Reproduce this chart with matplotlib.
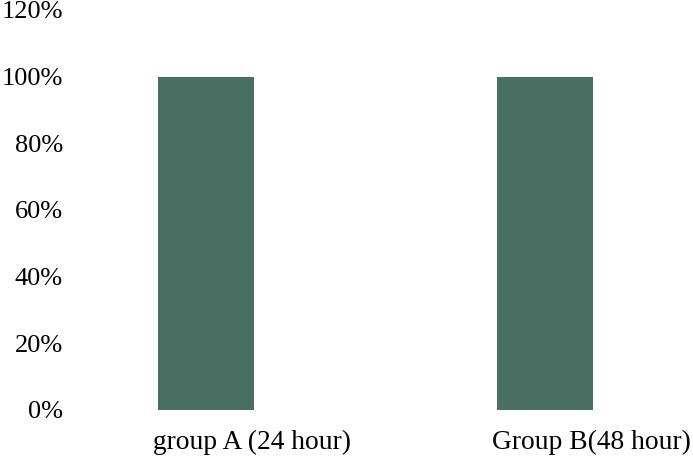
import matplotlib.pyplot as plt
from matplotlib.ticker import PercentFormatter

# data
groups = ['group A (24 hour)', 'Group B(48 hour)']
values = [1.0, 1.0]
y_ticks = [0, 0.2, 0.4, 0.6, 0.8, 1.0, 1.2]

plt.rcParams['font.family'] = ['Liberation Serif', 'DejaVu Serif']

fig = plt.figure(figsize=(6.93, 4.58), dpi=100)
ax = fig.add_axes([75 / 693, 48 / 458, 618 / 693, 400 / 458])

pos = list(range(len(groups)))
ax.bar(pos, values, width=0.286, color='#4a7063')

ax.set_xlim(-0.3864, 1.4366)
ax.set_ylim(0, 1.2)
ax.set_yticks(y_ticks)
ax.yaxis.set_major_formatter(PercentFormatter(1.0, decimals=0))
# labels sit left-aligned near the bar's left edge, like the source
ax.set_xticks([p - 0.155 for p in pos])
ax.set_xticklabels(groups, ha='left')

for s in ax.spines.values():
    s.set_visible(False)
ax.tick_params(axis='both', length=0, colors='black')
ax.tick_params(axis='y', pad=8.6, labelsize=19)
ax.tick_params(axis='x', pad=14, labelsize=19.8)

fig.savefig('out.png', dpi=100)
